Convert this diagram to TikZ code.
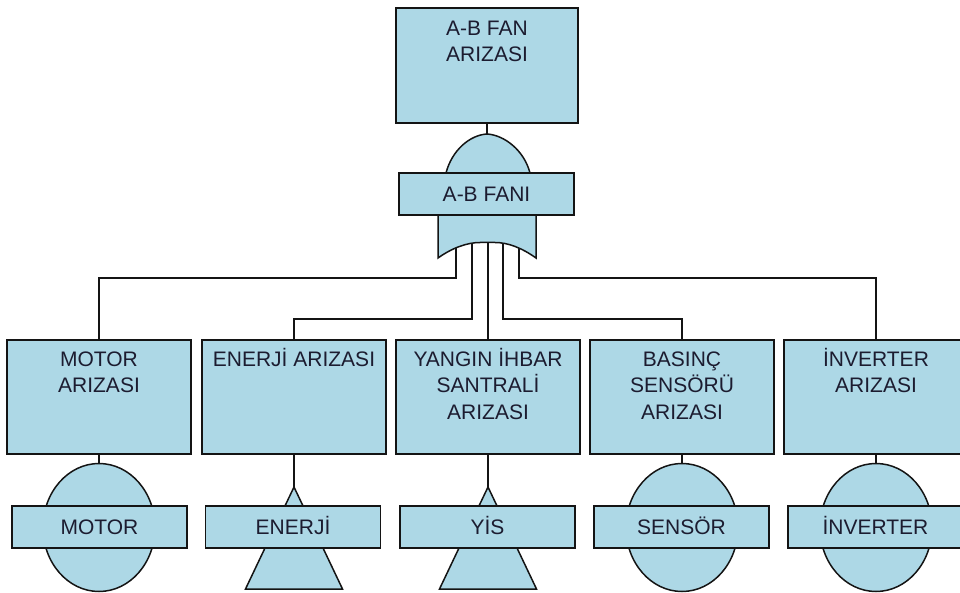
\documentclass[tikz,border=0pt]{standalone}
\usepackage{fontspec}
\setmainfont{Liberation Sans}
\usetikzlibrary{shapes.geometric}
\definecolor{fanblue}{RGB}{173,216,230}
\definecolor{edge}{RGB}{20,20,20}
\definecolor{ink}{RGB}{28,28,48}
\newcommand\fl{\rule{0pt}{20pt}}
\begin{document}
\begin{tikzpicture}[x=1pt,y=-1pt,
  box/.style={draw=edge,fill=fanblue,line width=1.6pt,inner sep=0pt,rectangle},
  bigbox/.style={box,minimum width=184pt,minimum height=114pt},
  txt/.style={anchor=north,inner sep=0pt,align=center,font=\fontsize{21}{26.5}\selectfont,text=ink},
  lbl/.style={box,minimum width=175pt,minimum height=42pt,font=\fontsize{21}{26}\selectfont,text=ink,text height=15pt,text depth=0pt},
  wire/.style={draw=edge,line width=1.6pt},
  shp/.style={draw=edge,fill=fanblue,line width=1.5pt},
]
\useasboundingbox (0,0) rectangle (960,593);

% top event
\node[box,minimum width=182pt,minimum height=115pt] (top) at (487,65.5) {};
\node[txt] (toptxt) at (487,15) {\fl A-B FAN\\ARIZASI};

% bottom row events
\node[bigbox] (m) at (99,397) {};
\node[bigbox] (e) at (294,397) {};
\node[bigbox] (y) at (488,397) {};
\node[bigbox] (b) at (682,397) {};
\node[bigbox] (i) at (876,397) {};
\node[txt] (mt) at (99,346) {\fl MOTOR\\ARIZASI};
\node[txt] (et) at (294,346) {\fl ENERJİ ARIZASI};
\node[txt] (yt) at (488,346) {\fl YANGIN İHBAR\\SANTRALİ\\ARIZASI};
\node[txt] (bt) at (682,346) {\fl BASINÇ\\SENSÖRÜ\\ARIZASI};
\node[txt] (it) at (876,346) {\fl İNVERTER\\ARIZASI};

% basic / undeveloped event shapes
\node[shp,ellipse,inner sep=0pt,minimum width=112pt,minimum height=128pt] (mc) at (99,527.5) {};
\node[shp,ellipse,inner sep=0pt,minimum width=112pt,minimum height=128pt] (sc) at (682,527.5) {};
\node[shp,ellipse,inner sep=0pt,minimum width=112pt,minimum height=128pt] (ic) at (876,527.5) {};
\coordinate (etop) at (294,487);
\coordinate (ytop) at (488,487);
\path[shp] (etop) -- ++(-48.5,102) -- ++(97,0) -- cycle;
\path[shp] (ytop) -- ++(-48.5,102) -- ++(97,0) -- cycle;

% gate coordinates and levels
\coordinate (apex) at (487,134);
\coordinate (g1) at (456,238);
\coordinate (g2) at (472,238);
\coordinate (g3) at (488,238);
\coordinate (g4) at (503,238);
\coordinate (g5) at (519,238);
\coordinate (h1) at (0,278);
\coordinate (h2) at (0,319);

% connectors
\draw[wire] (top.south) -- (apex);
\draw[wire] (g1) |- (m.north |- h1) -- (m.north);
\draw[wire] (g2) |- (e.north |- h2) -- (e.north);
\draw[wire] (g3) -- (y.north);
\draw[wire] (g4) |- (b.north |- h2) -- (b.north);
\draw[wire] (g5) |- (i.north |- h1) -- (i.north);
\draw[wire] (m.south) -- (mc.north);
\draw[wire] (e.south) -- (etop);
\draw[wire] (y.south) -- (ytop);
\draw[wire] (b.south) -- (sc.north);
\draw[wire] (i.south) -- (ic.north);

% OR gate
\path[shp] (438,258) -- (438,190) -- (446,173)
  .. controls (452,150) and (470,135) .. (apex)
  .. controls (504,135) and (524,150) .. (530,173)
  -- (536,190) -- (536,258)
  .. controls (522,248) and (508,242.5) .. (495,242.5)
  -- (480,242.5)
  .. controls (467,242.5) and (452,248) .. (438,258) -- cycle;
\node[lbl] (gate) at (486.5,194) {A-B FANI};

% labels of the basic events
\node[lbl] (ml) at (99.5,527) {MOTOR};
\node[lbl] (el) at (293,527) {ENERJİ};
\node[lbl] (yl) at (487.5,527) {YİS};
\node[lbl] (sl) at (681.5,527) {SENSÖR};
\node[lbl] (il) at (875.5,527) {İNVERTER};
\end{tikzpicture}
\end{document}
